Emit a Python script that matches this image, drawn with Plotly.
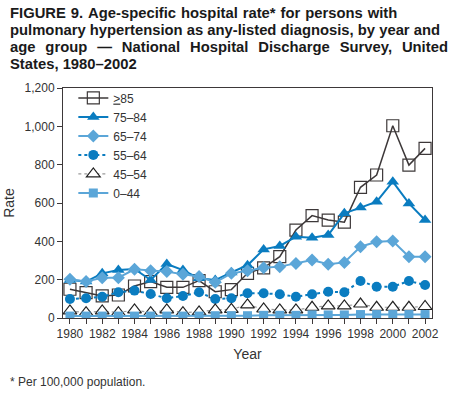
import plotly.graph_objects as go

years = list(range(1980, 2003))
age_ge85 = [150, 132, 115, 120, 167, 190, 160, 160, 195, 137, 148, 233, 262, 320, 459, 534, 511, 500, 682, 746, 1003, 798, 885]
age_75_84 = [198, 190, 233, 250, 256, 198, 282, 250, 207, 198, 238, 275, 358, 376, 424, 419, 433, 546, 576, 607, 711, 598, 511]
age_65_74 = [202, 190, 210, 210, 254, 247, 242, 228, 216, 186, 233, 247, 262, 268, 285, 303, 280, 290, 372, 398, 402, 320, 320]
age_55_64 = [99, 103, 111, 134, 143, 125, 103, 115, 134, 99, 103, 129, 129, 124, 111, 124, 137, 134, 193, 163, 163, 193, 172]
age_45_54 = [37, 28, 37, 28, 42, 28, 42, 28, 32, 42, 45, 68, 47, 42, 42, 56, 63, 63, 73, 56, 56, 56, 60]
age_0_44 = [10, 10, 10, 10, 10, 10, 10, 10, 10, 12, 12, 12, 14, 14, 14, 16, 16, 16, 18, 18, 18, 18, 18]

x_ticks = list(range(1980, 2003, 2))
y_ticks = [0, 200, 400, 600, 800, 1000, 1200]
y_labels = ["0", "200", "400", "600", "800", "1,000", "1,200"]

DARK = "#3d3839"
BLUE = "#0a7cc0"
LIGHT = "#5ba6d8"
FONT = "Liberation Sans, Arial, sans-serif"

fig = go.Figure()
fig.add_trace(go.Scatter(x=years, y=age_ge85, name="<u>></u>85", mode="lines+markers",
                         line=dict(color=DARK, width=1.5),
                         marker=dict(symbol="square-open", size=12, color=DARK, line=dict(width=1.2))))
fig.add_trace(go.Scatter(x=years, y=age_75_84, name="75–84", mode="lines+markers",
                         line=dict(color=BLUE, width=2),
                         marker=dict(symbol="triangle-up", size=11, color=BLUE)))
fig.add_trace(go.Scatter(x=years, y=age_65_74, name="65–74", mode="lines+markers",
                         line=dict(color=LIGHT, width=2),
                         marker=dict(symbol="diamond", size=10, color=LIGHT)))
fig.add_trace(go.Scatter(x=years, y=age_55_64, name="55–64", mode="lines+markers",
                         line=dict(color=BLUE, width=2, dash="dot"),
                         marker=dict(symbol="circle", size=10, color=BLUE)))
fig.add_trace(go.Scatter(x=years, y=age_45_54, name="45–54", mode="lines+markers",
                         line=dict(color="#9a9a9a", width=1.2, dash="dot"),
                         marker=dict(symbol="triangle-up", size=12, color="white",
                                     line=dict(color="#222222", width=1.2))))
fig.add_trace(go.Scatter(x=years, y=age_0_44, name="0–44", mode="lines+markers",
                         line=dict(color=LIGHT, width=2),
                         marker=dict(symbol="square", size=9, color=LIGHT)))

fig.update_layout(
    width=450, height=396,
    margin=dict(l=63, r=18, t=88, b=78, autoexpand=False),
    paper_bgcolor="white", plot_bgcolor="white",
    font=dict(family=FONT, size=12, color="#333333"),
    showlegend=True,
    legend=dict(x=0.028, y=1.02, xanchor="left", yanchor="top",
                bgcolor="rgba(0,0,0,0)", font=dict(size=12, color="#333333"),
                itemwidth=30, tracegroupgap=0),
)
fig.update_xaxes(range=[1979.57, 2002.43], tickvals=x_ticks, ticks="outside", ticklen=5,
                 tickcolor=DARK, showline=True, linecolor=DARK, linewidth=1, mirror=True,
                 showgrid=False, zeroline=False, tickfont=dict(size=12, color="#333333"),
                 minor=dict(dtick=1, tick0=1980, ticks="outside", ticklen=5, tickcolor=DARK, showgrid=False),
                 title=dict(text="Year", font=dict(size=14, color="#333333"), standoff=8))
fig.update_yaxes(range=[0, 1200], tickvals=y_ticks, ticktext=y_labels, ticks="outside", ticklen=5,
                 tickcolor=DARK, showline=True, linecolor=DARK, linewidth=1, mirror=True,
                 showgrid=False, zeroline=False, tickfont=dict(size=12, color="#333333"),
                 title=dict(text="Rate", font=dict(size=14, color="#333333"), standoff=6))

title_lines = [
    "FIGURE\u20049.\u2004Age-specific\u2004hospital\u2004rate*\u2004for\u2004persons\u2004with",
    "pulmonary hypertension as any-listed diagnosis, by year and",
    "age\u2002\u2006group\u2002\u2006—\u2002\u2006National\u2002\u2006Hospital\u2002\u2006Discharge\u2002\u2006Survey,\u2002\u2006United",
    "States, 1980–2002",
]
for i, t in enumerate(title_lines):
    fig.add_annotation(text="<b>" + t + "</b>", xref="paper", yref="paper",
                       x=(8 - 63) / 369, y=1 + (88 - (12.5 + 17 * i)) / 230,
                       xanchor="left", yanchor="middle", showarrow=False,
                       font=dict(size=14.8, color="#1a1a1a", family=FONT))
fig.add_annotation(text="* Per 100,000 population.", xref="paper", yref="paper",
                   x=(8 - 63) / 369, y=-(382 - 318) / 230, xanchor="left", yanchor="middle",
                   showarrow=False, font=dict(size=12, color="#333333", family=FONT))

fig.write_html("out.html", config={"displayModeBar": False},
               post_script="document.body.style.margin='0';document.body.style.overflow='hidden';")
